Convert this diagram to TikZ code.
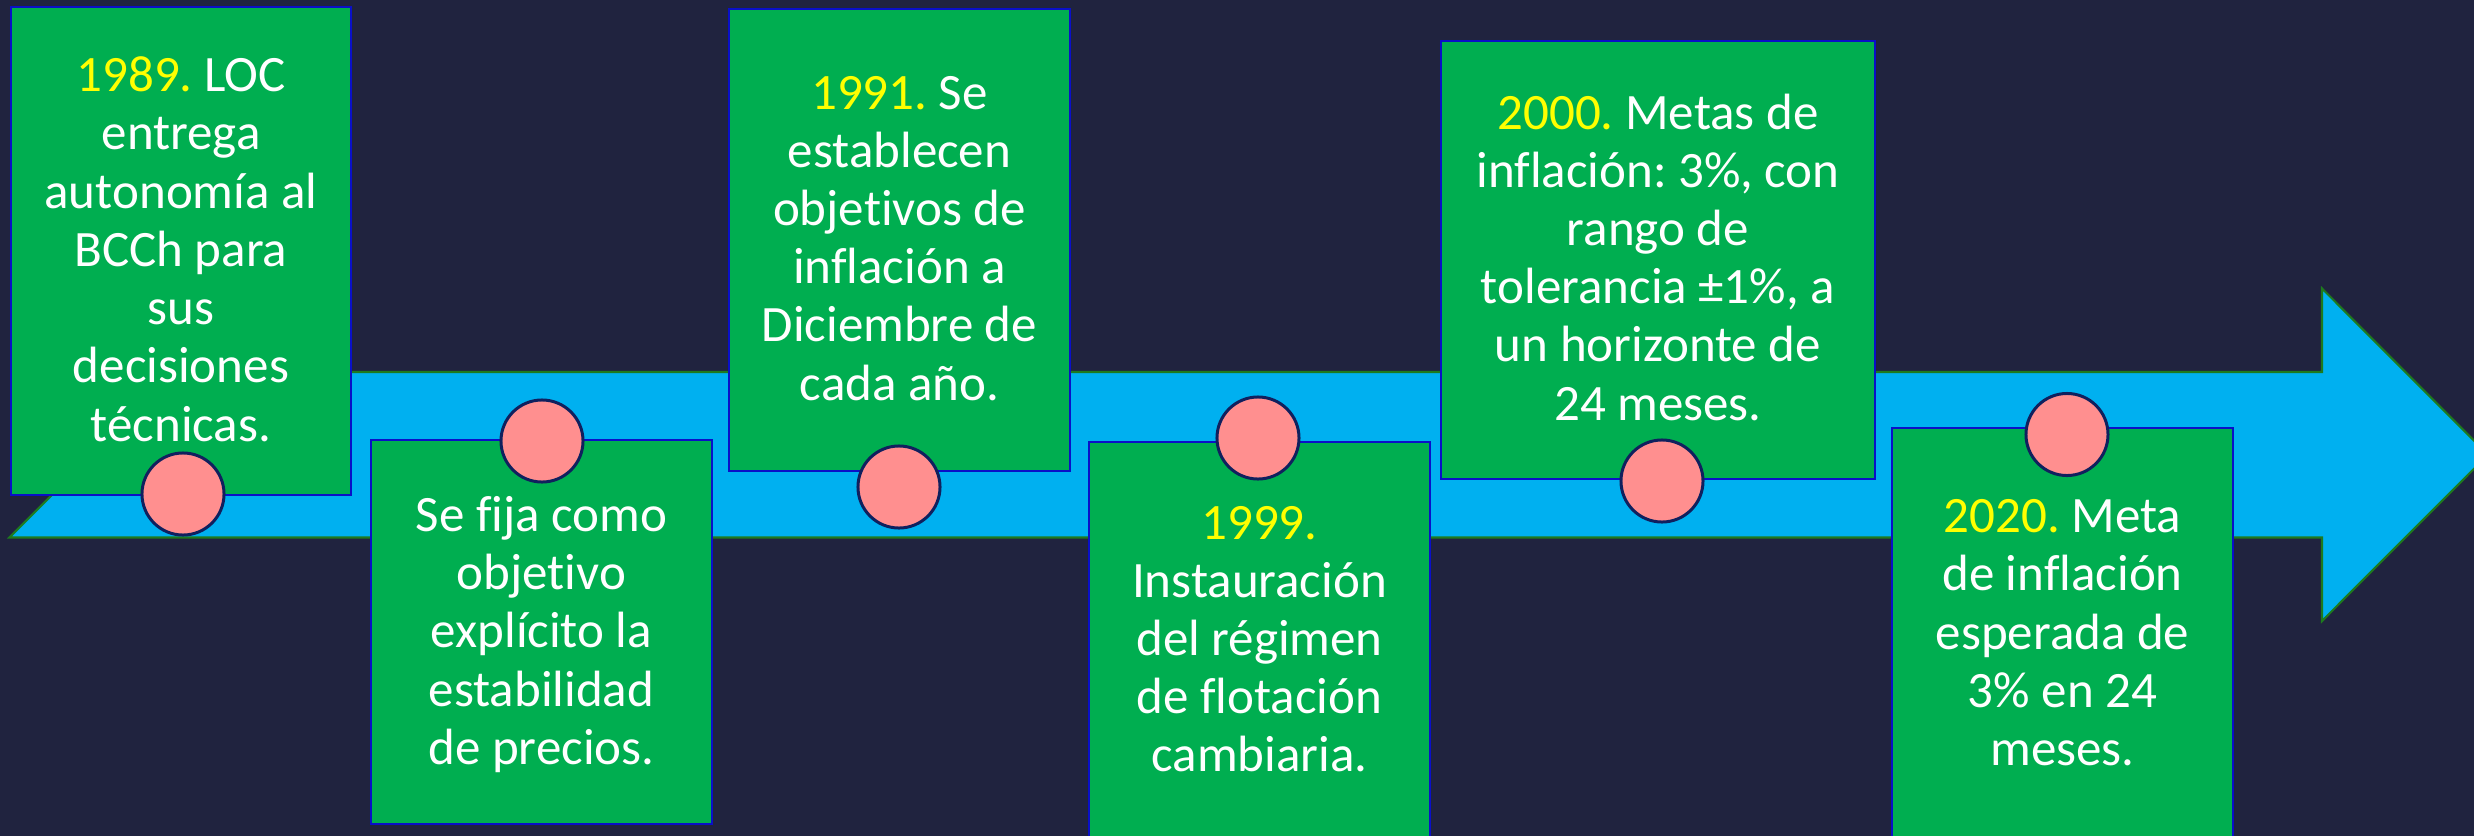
\documentclass[tikz,border=0pt]{standalone}
\usepackage{fontspec}
\setmainfont{Carlito}[Ligatures=NoCommon]
\frenchspacing
\definecolor{bg}{HTML}{20233F}
\definecolor{arrowblue}{HTML}{00B0F0}
\definecolor{arrowline}{HTML}{1E7A1E}
\definecolor{boxgreen}{HTML}{00AE50}
\definecolor{boxline}{HTML}{0A10C8}
\definecolor{dotfill}{HTML}{FF8F8F}
\definecolor{dotline}{HTML}{10205E}
\definecolor{yearcol}{HTML}{FFFF00}
\newcommand\yeartxt[1]{\textcolor{yearcol}{#1}}
\newcommand\firstrule{\rule{0pt}{0.459cm}}
\begin{document}
\begin{tikzpicture}[x=0.01cm,y=-0.01cm,
  box/.style={draw=boxline, fill=boxgreen, line width=0.6pt, inner sep=0pt, outer sep=0pt, anchor=north west},
  txt/.style={anchor=north, align=center, text=white, inner sep=0pt, font=\fontsize{14.5}{16.56}\selectfont},
  dot/.style={circle, draw=dotline, fill=dotfill, line width=0.85pt, minimum size=0.82cm, inner sep=0pt}]
\useasboundingbox (0,0) rectangle (2474,836);
\clip (0,0) rectangle (2474,836);
\fill[bg] (0,0) rectangle (2474,836);
% timeline arrow
\draw[draw=arrowline, fill=arrowblue, line width=0.6pt, line join=miter]
  (9.3,537.5) -- (175,372) -- (2322,372) -- (2322,288.5) -- (2488,454.7)
  -- (2322,621) -- (2322,537.5) -- cycle;
% boxes
\node[box, minimum width=3.40cm, minimum height=4.88cm] (b1) at (11,7) {};
\node[box, minimum width=3.41cm, minimum height=3.84cm] (b2) at (371,440) {};
\node[box, minimum width=3.41cm, minimum height=4.62cm] (b3) at (729,9) {};
\node[box, minimum width=3.41cm, minimum height=4.20cm] (b4) at (1089,442) {};
\node[box, minimum width=4.34cm, minimum height=4.38cm] (b5) at (1441,41) {};
\node[box, minimum width=3.41cm, minimum height=4.20cm] (b6) at (1892,428) {};
% texts
\node[txt] (t1) at (181,45.1) {\firstrule\yeartxt{1989.} LOC\\entrega\\autonomía al\\BCCh para\\sus\\decisiones\\técnicas.};
\node[txt] (t2) at (541.5,484.8) {\firstrule Se fija como\\objetivo\\explícito la\\estabilidad\\de precios.};
\node[txt] (t3) at (899.5,62.4) {\firstrule\yeartxt{1991.} Se\\establecen\\objetivos de\\inflación a\\Diciembre de\\cada año.};
\node[txt] (t4) at (1259.5,492.4) {\firstrule\yeartxt{1999.}\\Instauración\\del régimen\\de flotación\\cambiaria.};
\node[txt] (t5) at (1658,82.4) {\firstrule\yeartxt{2000.} Metas de\\inflación: 3\%, con\\rango de\\tolerancia ±1\%, a\\un horizonte de\\24 meses.};
\node[txt] (t6) at (2062.5,486.1) {\firstrule\yeartxt{2020.} Meta\\de inflación\\esperada de\\3\% en 24\\meses.};
% markers
\node[dot] (c1) at (183,494) {};
\node[dot] (c2) at (542,441) {};
\node[dot] (c3) at (899,487) {};
\node[dot] (c4) at (1258,438) {};
\node[dot] (c5) at (1662,481) {};
\node[dot] (c6) at (2067,434.5) {};
\end{tikzpicture}
\end{document}
